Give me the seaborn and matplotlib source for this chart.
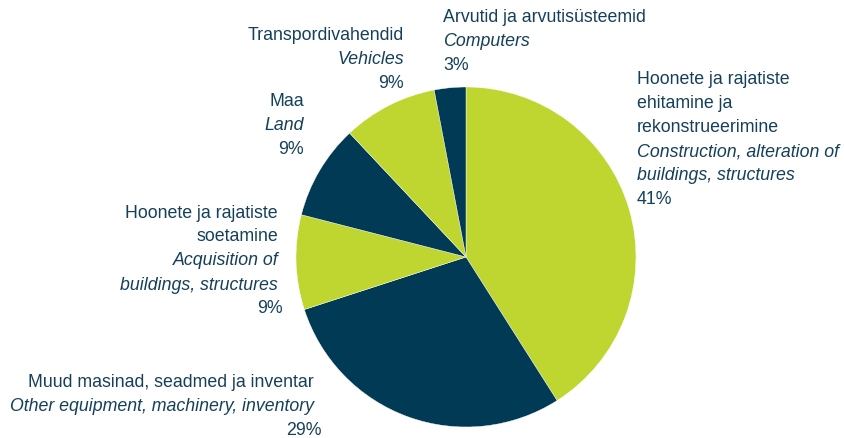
import matplotlib
matplotlib.use("Agg")
import matplotlib.pyplot as plt
import seaborn as sns

sns.set_theme(style="white")
plt.rcParams['font.family'] = ['Liberation Sans', 'DejaVu Sans']

# data, clockwise from the top
names_et = [
    ["Hoonete ja rajatiste", "ehitamine ja", "rekonstrueerimine"],
    ["Muud masinad, seadmed ja inventar"],
    ["Hoonete ja rajatiste", "soetamine"],
    ["Maa"],
    ["Transpordivahendid"],
    ["Arvutid ja arvutisüsteemid"],
]
names_en = [
    ["Construction, alteration of", "buildings, structures"],
    ["Other equipment, machinery, inventory"],
    ["Acquisition of", "buildings, structures"],
    ["Land"],
    ["Vehicles"],
    ["Computers"],
]
shares = [41, 29, 9, 9, 9, 3]

lime = "#BED62F"
navy = "#003A54"
txt = "#15405A"
colors = [lime, navy, lime, navy, lime, navy]

W, H = 844, 439
fig = plt.figure(figsize=(W / 100, H / 100), dpi=100)
cx, cy, r = 466, 258, 170
ax = fig.add_axes([(cx - r) / W, (H - cy - r) / H, 2 * r / W, 2 * r / H])
ax.pie(shares, colors=colors, startangle=90, counterclock=False,
       wedgeprops=dict(edgecolor="white", linewidth=0.3))
ax.set_xlim(-1, 1)
ax.set_ylim(-1, 1)
ax.set_aspect("equal")
ax.axis("off")

# label anchors in pixels: x, y of first line, alignment, extra x for the % line
anchors = [
    (637, 80, "left", 0),
    (314, 383, "right", 8),
    (278, 213, "right", 5),
    (304, 102, "right", 0),
    (404, 35, "right", 0),
    (443, 18, "left", 0),
]
step = 24

for i, (x, y, ha, dx) in enumerate(anchors):
    lines = [(s, "normal") for s in names_et[i]] + [(s, "italic") for s in names_en[i]]
    lines.append((f"{shares[i]}%", "normal"))
    for k, (s, st) in enumerate(lines):
        xx = x + (dx if k == len(lines) - 1 else 0)
        fig.text(xx / W, 1 - (y + k * step) / H, s, ha=ha, va="center",
                 fontsize=12.8, style=st, color=txt)

fig.savefig("out.png", dpi=100)
